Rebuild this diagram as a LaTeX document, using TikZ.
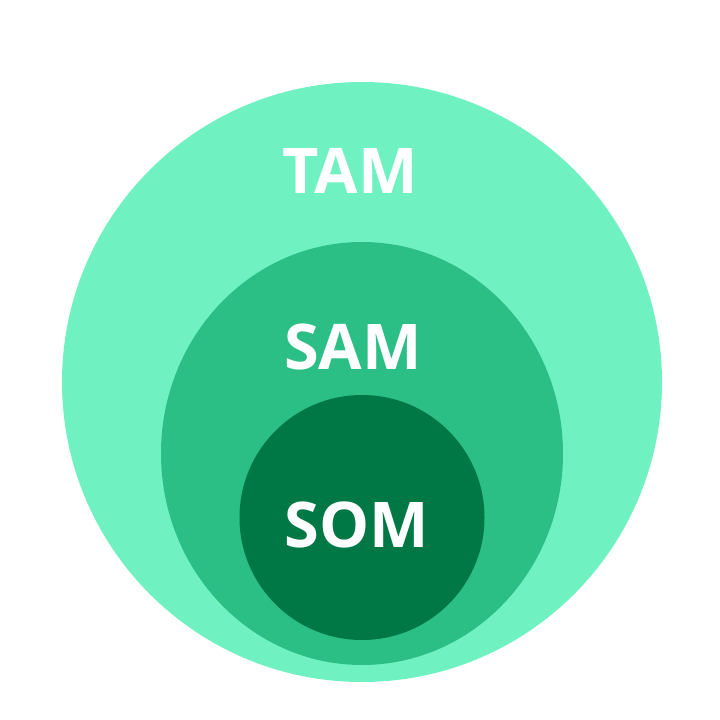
\documentclass[tikz,border=0pt]{standalone}
\usepackage{fontspec}
\setmainfont{Open Sans}
\definecolor{tamgreen}{RGB}{111,241,193}
\definecolor{samgreen}{RGB}{43,191,133}
\definecolor{somgreen}{RGB}{0,120,70}
\begin{document}
\begin{tikzpicture}
[x=1pt,y=-1pt,every node/.style={text=white,font=\fontsize{63}{63}\selectfont\bfseries,inner sep=0pt}]
\useasboundingbox (0,0) rectangle (720,720);
\fill[tamgreen] (362,382) circle (300);
\fill[samgreen] (362,453.5) ellipse (201 and 211.5);
\fill[somgreen] (362,517.5) circle (122.5);
\node (tam) at (350,171) {TAM};
\node (sam) at (353,347) {SAM};
\node (som) at (357,525) {SOM};
\end{tikzpicture}
\end{document}
